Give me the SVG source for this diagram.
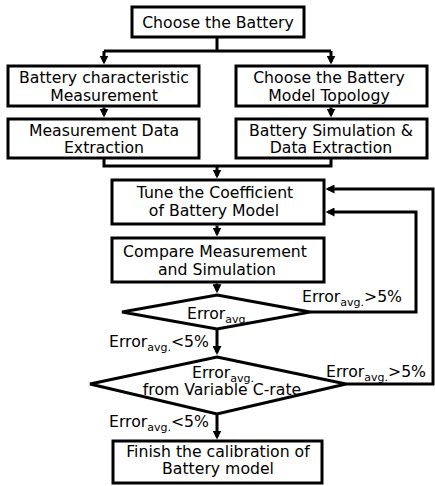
<svg xmlns="http://www.w3.org/2000/svg" width="435" height="486" viewBox="0 0 435 486">
  <style>
    .box { fill: #fff; stroke: #000; stroke-width: 3; }
    .dia { fill: #fff; stroke: #000; stroke-width: 3; stroke-linejoin: miter; }
    .wire { fill: none; stroke: #000; stroke-width: 3; }
    text { font-family: "DejaVu Sans", Verdana, sans-serif; font-size: 15.7px; fill: #000; }
    .c { text-anchor: middle; }
    .e { text-anchor: end; }
    .sub { font-size: 11px; }
  </style>
  <defs>
    <marker id="arrow" viewBox="0 0 10 10" refX="7" refY="5" markerWidth="9" markerHeight="9" markerUnits="userSpaceOnUse" orient="auto">
      <path d="M0,0 L10,5 L0,10 z" fill="#000"/>
    </marker>
  </defs>

  <!-- connectors -->
  <g id="connectors">
    <path class="wire" d="M217,37 V51 M104,51 H331"/>
    <path class="wire" d="M104,51 V61.8" marker-end="url(#arrow)"/>
    <path class="wire" d="M331,51 V61.8" marker-end="url(#arrow)"/>
    <path class="wire" d="M104,107.5 V114.8" marker-end="url(#arrow)"/>
    <path class="wire" d="M331,107.5 V114.8" marker-end="url(#arrow)"/>
    <path class="wire" d="M104,158 V166 H331 V158"/>
    <path class="wire" d="M217,166 V175.8" marker-end="url(#arrow)"/>
    <path class="wire" d="M217,225.5 V233.8" marker-end="url(#arrow)"/>
    <path class="wire" d="M217,283.5 V290.5" marker-end="url(#arrow)"/>
    <path class="wire" d="M217,329 V352.3" marker-end="url(#arrow)"/>
    <path class="wire" d="M217,414 V436.8" marker-end="url(#arrow)"/>
    <path class="wire" d="M310,312 H416 V212 H328.2" marker-end="url(#arrow)"/>
    <path class="wire" d="M346,384 H433 V189 H328.2" marker-end="url(#arrow)"/>
  </g>

  <!-- connector labels -->
  <g id="labels">
    <text x="302" y="302">Error<tspan class="sub" dy="4">avg.</tspan><tspan dy="-4">&gt;5%</tspan></text>
    <text class="e" x="209" y="347">Error<tspan class="sub" dy="4">avg.</tspan><tspan dy="-4">&lt;5%</tspan></text>
    <text x="326" y="377">Error<tspan class="sub" dy="4">avg.</tspan><tspan dy="-4">&gt;5%</tspan></text>
    <text class="e" x="209" y="427">Error<tspan class="sub" dy="4">avg.</tspan><tspan dy="-4">&lt;5%</tspan></text>
  </g>

  <g id="choose-battery">
    <rect class="box" x="132" y="7" width="172" height="30"/>
    <text class="c" x="218" y="28">Choose the Battery</text>
  </g>

  <g id="characteristic-measurement">
    <rect class="box" x="8" y="66" width="191" height="40"/>
    <text class="c" x="104" y="83">Battery characteristic</text>
    <text class="c" x="104" y="100.5">Measurement</text>
  </g>

  <g id="model-topology">
    <rect class="box" x="236" y="66" width="191" height="40"/>
    <text class="c" x="329" y="83">Choose the Battery</text>
    <text class="c" x="329" y="100.5">Model Topology</text>
  </g>

  <g id="measurement-extraction">
    <rect class="box" x="8" y="119" width="191" height="39"/>
    <text class="c" x="104" y="136">Measurement Data</text>
    <text class="c" x="104" y="152.5">Extraction</text>
  </g>

  <g id="simulation-extraction">
    <rect class="box" x="236" y="119" width="191" height="39"/>
    <text class="c" x="331" y="136">Battery Simulation &amp;</text>
    <text class="c" x="331" y="152.5">Data Extraction</text>
  </g>

  <g id="tune-coefficient">
    <rect class="box" x="112" y="180" width="212" height="44"/>
    <text class="c" x="215" y="198">Tune the Coefficient</text>
    <text class="c" x="214" y="216">of Battery Model</text>
  </g>

  <g id="compare">
    <rect class="box" x="112" y="238" width="212" height="44"/>
    <text class="c" x="215" y="257">Compare Measurement</text>
    <text class="c" x="217" y="275">and Simulation</text>
  </g>

  <g id="error-check">
    <polygon class="dia" points="217,295 310,312 217,329 122,312"/>
    <text class="c" x="218" y="319">Error<tspan class="sub" dy="4">avg.</tspan></text>
  </g>

  <g id="c-rate-check">
    <polygon class="dia" points="217,357 346,384 217,414 90,384"/>
    <text class="c" x="223" y="378">Error<tspan class="sub" dy="4">avg.</tspan></text>
    <text class="c" x="222" y="395">from Variable C-rate</text>
  </g>

  <g id="finish">
    <rect class="box" x="113" y="441" width="209" height="42"/>
    <text class="c" x="218" y="457">Finish the calibration of</text>
    <text class="c" x="218" y="474">Battery model</text>
  </g>
</svg>
